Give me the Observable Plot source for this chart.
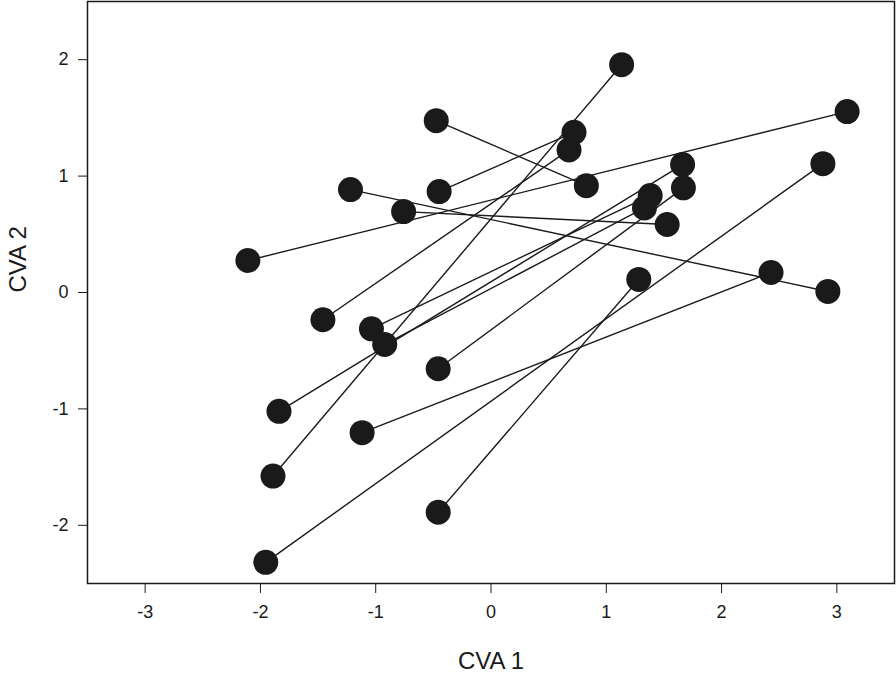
<!DOCTYPE html>
<html>
<head>
<meta charset="utf-8">
<script src="https://cdn.jsdelivr.net/npm/d3@7"></script>
<script src="https://cdn.jsdelivr.net/npm/@observablehq/plot@0.6"></script>
<style>
  body { margin: 0; background: #fff; }
  #chart svg { display: block; }
  #chart svg g[aria-label="x-axis tick label"] text,
  #chart svg g[aria-label="y-axis tick label"] text { font-size: 18px !important; }
</style>
</head>
<body>
<div id="chart"></div>
<script>
// Start point of each pair (CVA 1, CVA 2)
const startX = [-2.109, -0.475, -1.219, -0.758, -0.450, -1.458, -1.891, -1.839, -0.922, -1.037, -0.458, -1.118, -0.458, -1.954];
const startY = [ 0.275,  1.476,  0.884,  0.695,  0.867, -0.234, -1.577, -1.021, -0.446, -0.312, -0.655, -1.204, -1.888, -2.318];
// End point of each pair
const endX   = [ 3.089,  0.827,  2.922,  1.528,  0.720,  0.677,  1.133,  1.662,  1.331,  1.381,  1.669,  2.429,  1.282,  2.879];
const endY   = [ 1.554,  0.918,  0.009,  0.584,  1.376,  1.225,  1.957,  1.099,  0.727,  0.833,  0.899,  0.172,  0.112,  1.107];

const xTicks = [-3, -2, -1, 0, 1, 2, 3];
const yTicks = [-2, -1, 0, 1, 2];
const xTitle = "CVA 1";
const yTitle = "CVA 2";

const pairs = startX.map((x, i) => ({x1: x, y1: startY[i], x2: endX[i], y2: endY[i]}));
const points = pairs.flatMap(d => [{x: d.x1, y: d.y1}, {x: d.x2, y: d.y2}]);

const ink = "#1a1a1a";
const fmt = d => String(d);

const chart = Plot.plot({
  width: 896,
  height: 675,
  marginLeft: 87,
  marginRight: 2,
  marginTop: 1,
  marginBottom: 92,
  style: {fontFamily: "'Liberation Sans', Arial, sans-serif", fontSize: "18px", background: "#fff", color: ink},
  x: {domain: [-3.5, 3.5]},
  y: {domain: [-2.5, 2.5]},
  marks: [
    Plot.axisX({ticks: xTicks, tickFormat: fmt, tickSize: 10, tickPadding: 12, fontSize: 18, label: null, stroke: ink, fill: ink}),
    Plot.axisY({ticks: yTicks, tickFormat: fmt, tickSize: 9, tickPadding: 10, fontSize: 18, label: null, stroke: ink, fill: ink}),
    Plot.link(pairs, {x1: "x1", y1: "y1", x2: "x2", y2: "y2", stroke: ink, strokeWidth: 1.4}),
    Plot.dot(points, {x: "x", y: "y", r: 12.5, fill: ink, stroke: "none"}),
    Plot.frame({stroke: ink, strokeWidth: 1.5}),
    Plot.text([xTitle], {text: d => d, frameAnchor: "bottom", lineAnchor: "middle", dy: 78, fontSize: 24, fill: ink}),
    Plot.text([yTitle], {text: d => d, frameAnchor: "left", lineAnchor: "middle", rotate: -90, dx: -69, fontSize: 24, fill: ink})
  ]
});

document.getElementById("chart").appendChild(chart);
</script>
</body>
</html>
